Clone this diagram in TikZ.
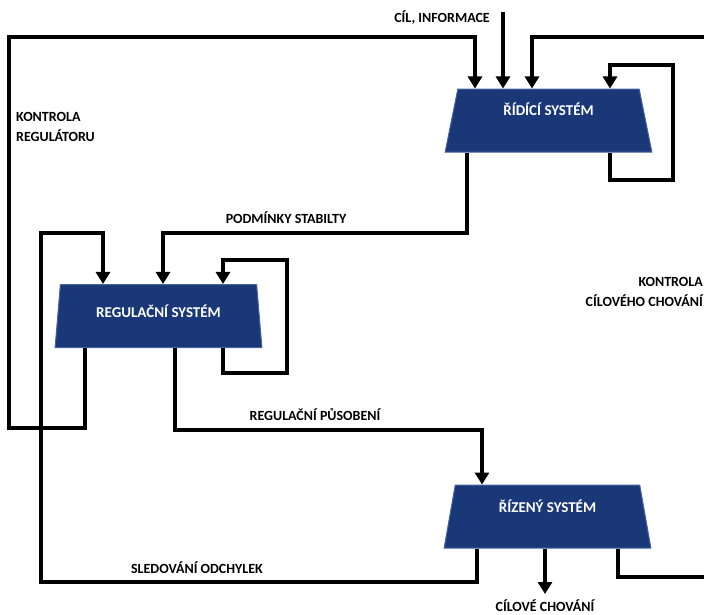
\documentclass[tikz,border=0pt]{standalone}
\usepackage{fontspec}
\setmainfont{Carlito}
\usetikzlibrary{arrows.meta,shapes.geometric}
\definecolor{navy}{RGB}{26,56,120}
\definecolor{navyedge}{RGB}{70,100,160}
\tikzset{
  sysbox/.style={trapezium,trapezium stretches=true,trapezium left angle=77,
    trapezium right angle=77,minimum width=207pt,minimum height=63pt,
    inner sep=0pt,fill=navy,draw=navyedge,line width=1pt,text=white,
    font=\fontsize{15}{17}\selectfont\bfseries,text height=9pt,text depth=#1},
  flow/.style={line width=3.3pt,line join=miter},
  tip/.style={-{Triangle[width=14pt,length=12pt]}},
  lbl/.style={font=\fontsize{14}{20}\selectfont\bfseries,inner sep=0pt}
}
\begin{document}
\begin{tikzpicture}[x=1pt,y=-1pt]
  \useasboundingbox (0,0) rectangle (704,614);

  % the three systems
  \node[sysbox=18.4pt] (rid) at (548.5,120.5) {ŘÍDÍCÍ SYSTÉM};
  \node[sysbox=5.4pt] (reg) at (158.5,316) {REGULAČNÍ SYSTÉM};
  \node[sysbox=16.4pt] (riz) at (547.5,516.5) {ŘÍZENÝ SYSTÉM};

  \coordinate (cil) at (503,12);
  \coordinate (vpravo) at (712,37);
  \coordinate (ven) at (545,594);
  \coordinate (vpravo2) at (712,577);

  % inputs of the control system
  \draw[flow,tip] (85,0 |- reg.south) -- (85,428) -- (9,428) -- (9,37)
    -- (475,37) -- (475,0 |- rid.north);
  \draw[flow,tip] (cil) -- (503,0 |- rid.north);
  \draw[flow,tip] (vpravo) -- (532,37) -- (532,0 |- rid.north);
  \draw[flow,tip] (610,0 |- rid.south) -- (610,180) -- (673,180) -- (673,65)
    -- (610,65) -- (610,0 |- rid.north);

  % control system -> regulator
  \draw[flow,tip] (467,0 |- rid.south) -- (467,233) -- (163,233)
    -- (163,0 |- reg.north);
  \draw[flow,tip] (223,0 |- reg.south) -- (223,373) -- (287,373) -- (287,260)
    -- (223,260) -- (223,0 |- reg.north);

  % controlled system
  \draw[flow,tip] (477,0 |- riz.south) -- (477,582) -- (41,582) -- (41,233)
    -- (103,233) -- (103,0 |- reg.north);
  \draw[flow,tip] (175,0 |- reg.south) -- (175,430) -- (482,430)
    -- (482,0 |- riz.north);
  \draw[flow,tip] (545,0 |- riz.south) -- (ven);
  \draw[flow] (618,0 |- riz.south) -- (618,577) -- (vpravo2);

  % labels
  \node[lbl,anchor=east] (cilt) at (490,18) {CÍL, INFORMACE};
  \node[lbl,anchor=west,align=left] (kreg) at (16,127) {KONTROLA\\REGULÁTORU};
  \node[lbl] (podm) at (286,218) {PODMÍNKY STABILTY};
  \node[lbl] (pusob) at (315,415) {REGULAČNÍ PŮSOBENÍ};
  \node[lbl] (sled) at (197,568) {SLEDOVÁNÍ ODCHYLEK};
  \node[lbl] (chov) at (545,606) {CÍLOVÉ CHOVÁNÍ};
  \node[lbl,anchor=east,align=right] (kcil) at (703,292) {KONTROLA\\CÍLOVÉHO CHOVÁNÍ};
\end{tikzpicture}
\end{document}
